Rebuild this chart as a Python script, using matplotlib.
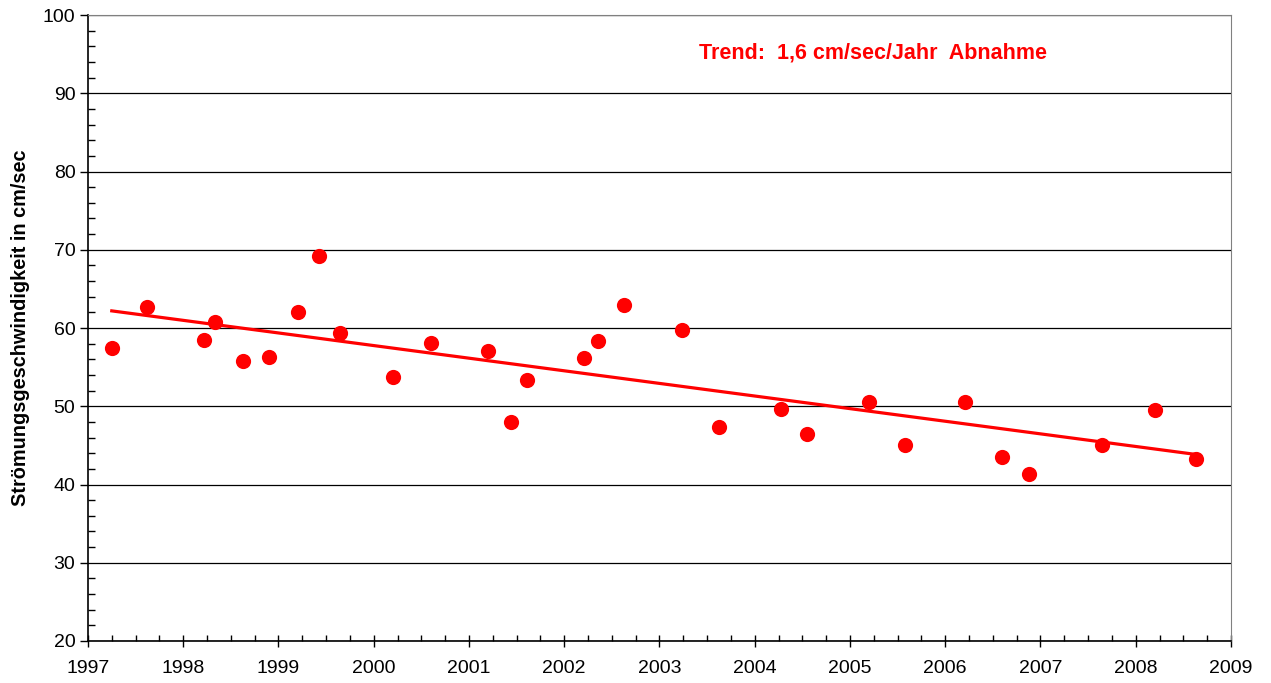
import matplotlib.pyplot as plt
from matplotlib.ticker import MultipleLocator
import numpy as np

plt.rcParams["font.family"] = ["Liberation Sans", "DejaVu Sans"]

# Messzeitpunkte (Dezimaljahr) und Strömungsgeschwindigkeit in cm/sec
jahr = np.array([1997.25, 1997.62, 1998.22, 1998.33, 1998.63, 1998.90, 1999.20,
                 1999.43, 1999.65, 2000.20, 2000.60, 2001.20, 2001.44, 2001.61,
                 2002.21, 2002.36, 2002.63, 2003.24, 2003.63, 2004.28, 2004.55,
                 2005.20, 2005.58, 2006.21, 2006.60, 2006.88, 2007.65, 2008.20,
                 2008.63])
geschw = np.array([57.5, 62.7, 58.5, 60.8, 55.8, 56.3, 62.1,
                   69.15, 59.4, 53.7, 58.1, 57.0, 48.0, 53.4,
                   56.2, 58.3, 62.9, 59.8, 47.4, 49.6, 46.5,
                   50.5, 45.0, 50.6, 43.5, 41.35, 45.0, 49.5,
                   43.3])

# lineare Regression
m, b = np.polyfit(jahr, geschw, 1)
xt = np.array([jahr[0], jahr[-1]])

fig = plt.figure(figsize=(12.71, 6.83), dpi=100)
ax = fig.add_axes([0.0692, 0.0615, 0.8993, 0.9165])

ax.plot(xt, m * xt + b, color="red", lw=2.3, zorder=3)
ax.scatter(jahr, geschw, s=120, color="red", zorder=4, linewidths=0)

ax.set_xlim(1997, 2009)
ax.set_ylim(20, 100)
ax.xaxis.set_major_locator(MultipleLocator(1))
ax.xaxis.set_minor_locator(MultipleLocator(0.25))
ax.yaxis.set_major_locator(MultipleLocator(10))
ax.yaxis.set_minor_locator(MultipleLocator(2))
ax.set_xticklabels([str(int(t)) for t in ax.get_xticks()])

ax.tick_params(axis="x", which="major", direction="inout", length=9, width=1, labelsize=14, pad=9)
ax.tick_params(axis="x", which="minor", direction="in", length=4, width=1)
ax.tick_params(axis="y", which="major", direction="out", length=6, width=1, labelsize=14, pad=3)
ax.tick_params(axis="y", which="minor", direction="in", length=5, width=1)

ax.grid(axis="y", which="major", color="black", lw=0.9)
for s in ["top", "right"]:
    ax.spines[s].set_color("#808080")
for s in ["left", "bottom"]:
    ax.spines[s].set_linewidth(1.2)

ax.set_ylabel("Strömungsgeschwindigkeit in cm/sec", fontsize=14.3, fontweight="bold", labelpad=9)
ax.text(0.687, 0.939, "Trend:  1,6 cm/sec/Jahr  Abnahme", transform=ax.transAxes,
        color="red", fontsize=15.5, fontweight="bold", ha="center", va="center")

fig.savefig("out.png", dpi=100)
